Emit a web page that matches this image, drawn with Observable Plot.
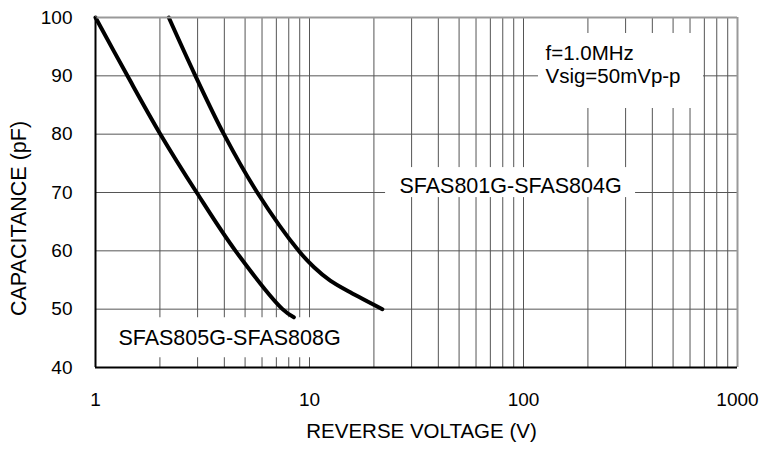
<!DOCTYPE html>
<html>
<head>
<meta charset="utf-8">
<script src="https://cdn.jsdelivr.net/npm/d3@7"></script>
<script src="https://cdn.jsdelivr.net/npm/@observablehq/plot@0.6"></script>
<style>
  html, body { margin: 0; padding: 0; background: #fff; }
</style>
</head>
<body>
<div id="chart"></div>
<script>
// Series: SFAS805G-SFAS808G
const voltsA = [1, 1.41, 2.01, 2.97, 4.51, 7.48, 8.45];
const capA   = [100, 90, 80, 70, 60, 50, 48.6];
// Series: SFAS801G-SFAS804G
const voltsB = [2.2, 2.93, 3.98, 5.7, 8.9, 10.5, 12.5, 15.5, 21.9];
const capB   = [100, 90, 80, 70, 60, 57.2, 54.9, 52.9, 50];

const xTicks = [1, 10, 100, 1000];
const yTicks = [40, 50, 60, 70, 80, 90, 100];
const xGrid = [2, 3, 4, 5, 6, 7, 8, 9, 10, 20, 30, 40, 50, 60, 70, 80, 90, 100, 200, 300, 400, 500, 600, 700, 800, 900];
const yGrid = [50, 60, 70, 80, 90];

const xTitle = "REVERSE VOLTAGE (V)";
const yTitle = "CAPACITANCE (pF)";

const labelB = [{x: 87, y: 71.1, text: "SFAS801G-SFAS804G"}];
const labelA = [{x: 4.23, y: 45.1, text: "SFAS805G-SFAS808G"}];
const conditionLines = ["f=1.0MHz", "Vsig=50mVp-p"];
const conditionLabel = [{x: 126.7, y: 92.03, text: conditionLines.join("\n")}];
const conditionBox = [{x: 126.7, y: 90.83}];

const seriesA = voltsA.map((v, i) => ({v, c: capA[i]}));
const seriesB = voltsB.map((v, i) => ({v, c: capB[i]}));

const chart = Plot.plot({
  width: 764,
  height: 449,
  marginLeft: 95,
  marginRight: 27,
  marginTop: 17,
  marginBottom: 82,
  style: {fontFamily: "'Liberation Sans', Arial, sans-serif", fontSize: "19px", background: "#fff", color: "#000"},
  x: {type: "log", domain: [1, 1000]},
  y: {domain: [40, 100]},
  marks: [
    Plot.ruleX(xGrid, {stroke: "#555", strokeWidth: 1}),
    Plot.ruleY(yGrid, {stroke: "#555", strokeWidth: 1}),
    // white boxes behind the annotations
    Plot.rect(labelB, {x1: "x", x2: "x", y1: "y", y2: "y", fill: "#fff",
      insetLeft: -125, insetRight: -125, insetTop: -18.5, insetBottom: -11.5}),
    Plot.rect(labelA, {x1: "x", x2: "x", y1: "y", y2: "y", fill: "#fff",
      insetLeft: -124, insetRight: -124, insetTop: -20, insetBottom: -20}),
    Plot.rect(conditionBox, {x1: "x", x2: "x", y1: "y", y2: "y", fill: "#fff",
      insetLeft: -7, insetRight: -158, insetTop: -37.5, insetBottom: -37.5}),
    Plot.text(labelB.concat(labelA), {
      x: "x", y: "y", text: "text", textAnchor: "middle", lineAnchor: "middle",
      fontSize: 21.5, fill: "#000"
    }),
    Plot.text(conditionLabel, {
      x: "x", y: "y", text: "text", textAnchor: "start", lineAnchor: "middle",
      lineHeight: 1.13, fontSize: 20.5, fill: "#000"
    }),
    Plot.line(seriesA, {x: "v", y: "c", stroke: "#000", strokeWidth: 4, curve: "catmull-rom"}),
    Plot.line(seriesB, {x: "v", y: "c", stroke: "#000", strokeWidth: 4, curve: "catmull-rom"}),
    Plot.ruleY([100], {stroke: "#999", strokeWidth: 2}),
    Plot.ruleX([1000], {stroke: "#999", strokeWidth: 2}),
    Plot.ruleX([1], {stroke: "#000", strokeWidth: 2}),
    Plot.ruleY([40], {stroke: "#000", strokeWidth: 2}),
    Plot.axisX({
      ticks: xTicks, tickSize: 0, tickPadding: 25, tickFormat: d => String(d),
      label: null, fontSize: 19
    }),
    Plot.axisY({
      ticks: yTicks, tickSize: 0, tickPadding: 23, tickFormat: d => String(d),
      label: null, fontSize: 19
    }),
    Plot.text([xTitle], {
      text: d => d, frameAnchor: "bottom", textAnchor: "middle", lineAnchor: "middle",
      dx: 5, dy: 64, fontSize: 20.5, fill: "#000"
    }),
    Plot.text([yTitle], {
      text: d => d, frameAnchor: "left", textAnchor: "middle", lineAnchor: "middle",
      rotate: -90, dx: -76, dy: 26, fontSize: 21.5, fill: "#000"
    })
  ]
});
document.getElementById("chart").appendChild(chart);
</script>
</body>
</html>
